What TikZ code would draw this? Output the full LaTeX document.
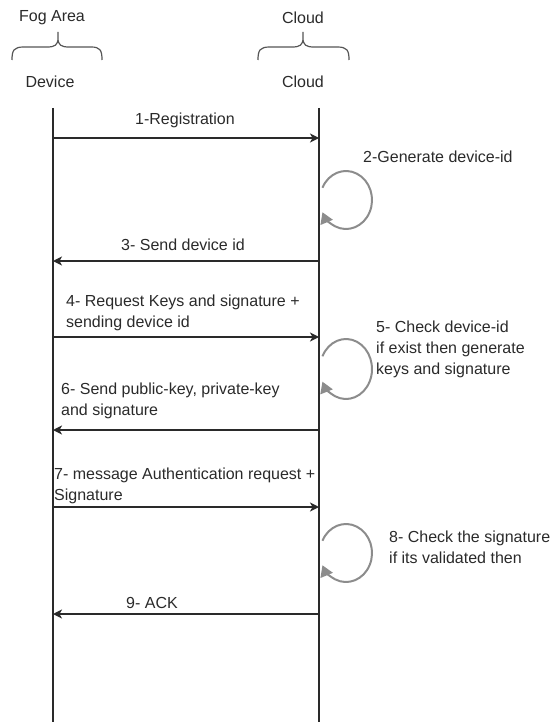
\documentclass[tikz,border=0pt]{standalone}
\usepackage{fontspec}
\setmainfont{Liberation Sans}
\usetikzlibrary{arrows.meta}
\definecolor{ink}{HTML}{2A2A2A}
\definecolor{loopgray}{HTML}{8C8C8C}
\definecolor{bracegray}{HTML}{555555}
\tikzset{
  lbl/.style={inner sep=0pt, text=ink, font=\fontsize{16}{21}\selectfont, align=left},
  lifeline/.style={draw=ink, line width=1.3pt},
  msg/.style={draw=ink, line width=1.5pt, -{Stealth[length=9pt,width=9pt,inset=2.5pt]}},
  selfloop/.style={draw=loopgray, line width=2pt, -{Triangle[length=11pt,width=13pt]}},
  bracket/.style={draw=bracegray, line width=1.2pt},
}
\begin{document}
\begin{tikzpicture}[x=1pt,y=-1pt]
\useasboundingbox (0,0) rectangle (551,722);

% group labels and braces
\node[lbl] (fog) at (52,18) {Fog Area};
\node[lbl] (cloudgrp) at (303,18) {Cloud};
\draw[bracket] (12,60) .. controls (12,50) and (14,47) .. (24,47) -- (47,47)
  .. controls (55,47) and (58,45) .. (58,38) -- (58,32)
  (58,38) .. controls (58,45) and (61,47) .. (69,47) -- (91,47)
  .. controls (100,47) and (102,50) .. (102,60);
\draw[bracket] (258,60) .. controls (258,50) and (260,47) .. (270,47) -- (292,47)
  .. controls (300,47) and (303,45) .. (303,38) -- (303,32)
  (303,38) .. controls (303,45) and (306,47) .. (314,47) -- (337,47)
  .. controls (347,47) and (349,50) .. (349,60);

% participants and lifelines
\node[lbl] (device) at (50,82) {Device};
\node[lbl] (cloud) at (303,82) {Cloud};
\coordinate (dtop) at (53,108);
\coordinate (dbot) at (53,722);
\coordinate (ctop) at (319,108);
\coordinate (cbot) at (319,722);
\draw[lifeline] (dtop) -- (dbot);
\draw[lifeline] (ctop) -- (cbot);

% message end points on the lifelines
\coordinate (d1) at (53,138);  \coordinate (c1) at (319,138);
\coordinate (d3) at (53,261);  \coordinate (c3) at (319,261);
\coordinate (d4) at (53,337);  \coordinate (c4) at (319,337);
\coordinate (d6) at (53,430);  \coordinate (c6) at (319,430);
\coordinate (d7) at (53,507);  \coordinate (c7) at (319,507);
\coordinate (d9) at (53,614);  \coordinate (c9) at (319,614);

% messages
\draw[msg] (d1) -- (c1);
\node[lbl] (m1) at (185,120) {1-Registration};

\draw[msg] (c3) -- (d3);
\node[lbl] (m3) at (183,245) {3- Send device id};

\draw[msg] (d4) -- (c4);
\node[lbl, anchor=west] (m4) at (66,313) {4- Request Keys and signature +\\sending device id};

\draw[msg] (c6) -- (d6);
\node[lbl, anchor=west] (m6) at (61,401) {6- Send public-key, private-key\\and signature};

\draw[msg] (d7) -- (c7);
\node[lbl, anchor=west] (m7) at (54,486) {7- message Authentication request +\\Signature};

\draw[msg] (c9) -- (d9);
\node[lbl] (m9) at (152,603) {9- ACK};

% self messages on the cloud lifeline
\coordinate (loop2) at (346,200);
\coordinate (loop5) at (346,369);
\coordinate (loop8) at (346,553);
\draw[selfloop] ([shift={(205:26 and 29)}]loop2) arc[start angle=205, end angle=515, x radius=26, y radius=29];
\draw[selfloop] ([shift={(205:26 and 30)}]loop5) arc[start angle=205, end angle=515, x radius=26, y radius=30];
\draw[selfloop] ([shift={(205:26 and 29)}]loop8) arc[start angle=205, end angle=515, x radius=26, y radius=29];

\node[lbl, anchor=west] (m2) at (363,157) {2-Generate device-id};
\node[lbl, anchor=west] (m5) at (376,349) {5- Check device-id\\if exist then generate\\keys and signature};
\node[lbl, anchor=west] (m8) at (389,547) {8- Check the signature\\if its validated then};
\end{tikzpicture}
\end{document}
